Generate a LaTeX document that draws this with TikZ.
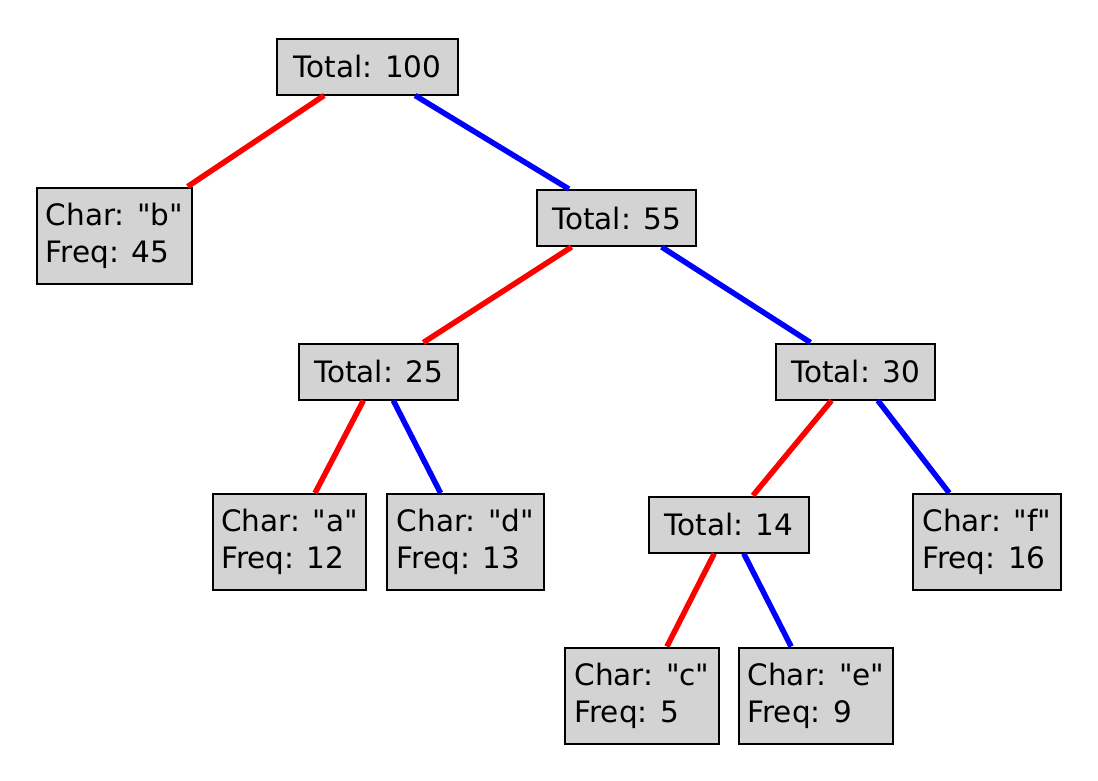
\documentclass[tikz,border=0pt]{standalone}
\usepackage{fontspec}
\setmainfont{DejaVu Sans}[Ligatures=TeXOff]
\begin{document}
\begin{tikzpicture}[x=1pt,y=-1pt,
  box/.style={draw=black,line width=2pt,fill=boxgray,inner sep=0pt,
    font=\fontsize{29.5}{37}\selectfont,align=left},
  tot/.style={box,minimum height=56pt,minimum width=#1},
  leaf/.style={box,minimum height=96pt,minimum width=#1},
  redge/.style={draw=red,line width=5.5pt},
  bedge/.style={draw=blue,line width=5.5pt}]
\definecolor{boxgray}{RGB}{211,211,211}
\useasboundingbox (0,0) rectangle (1098,780);
\node[tot=181pt] (t100) at (367.5,66.5) {Total: 100};
\node[leaf=155pt] (b) at (114.5,235.5) {Char: "b"\\Freq: 45};
\node[tot=159pt] (t55) at (616.5,218) {Total: 55};
\node[tot=159pt] (t25) at (378.5,371.5) {Total: 25};
\node[tot=159pt] (t30) at (855.5,371.5) {Total: 30};
\node[leaf=153pt] (a) at (289.5,542) {Char: "a"\\Freq: 12};
\node[leaf=157pt] (d) at (465.5,542) {Char: "d"\\Freq: 13};
\node[tot=160pt] (t14) at (729,524.5) {Total: 14};
\node[leaf=148pt] (f) at (987,542) {Char: "f"\\Freq: 16};
\node[leaf=154pt] (c) at (642,695.5) {Char: "c"\\Freq: 5};
\node[leaf=154pt] (e) at (816,695.5) {Char: "e"\\Freq: 9};
\path[redge] (t100) -- (b);
\path[bedge] (t100) -- (t55);
\path[redge] (t55) -- (t25);
\path[bedge] (t55) -- (t30);
\path[redge] (t25) -- (a);
\path[bedge] (t25) -- (d);
\path[redge] (t30) -- (t14);
\path[bedge] (t30) -- (f);
\path[redge] (t14) -- (c);
\path[bedge] (t14) -- (e);
\end{tikzpicture}
\end{document}
